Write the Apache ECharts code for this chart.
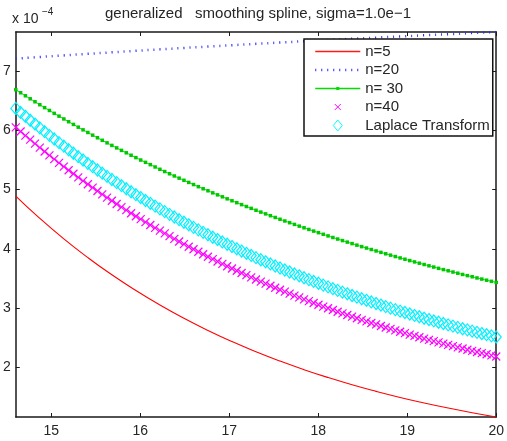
<!DOCTYPE html>
<html>
<head>
<meta charset="utf-8">
<script src="https://cdn.jsdelivr.net/npm/echarts@6/dist/echarts.min.js"></script>
<style>
  html, body { margin: 0; padding: 0; background: #fff; }
  #chart { width: 507px; height: 441px; }
</style>
</head>
<body>
<div id="chart"></div>
<script>
// Sample points (values in units of 1e-4)
const xFine = [
  14.6, 14.654, 14.708, 14.762, 14.816, 14.87, 14.924, 14.978, 15.032, 15.086,
  15.14, 15.194, 15.248, 15.302, 15.356, 15.41, 15.464, 15.518, 15.572, 15.626,
  15.68, 15.734, 15.788, 15.842, 15.896, 15.95, 16.004, 16.058, 16.112, 16.166,
  16.22, 16.274, 16.328, 16.382, 16.436, 16.49, 16.544, 16.598, 16.652, 16.706,
  16.76, 16.814, 16.868, 16.922, 16.976, 17.03, 17.084, 17.138, 17.192, 17.246,
  17.3, 17.354, 17.408, 17.462, 17.516, 17.57, 17.624, 17.678, 17.732, 17.786,
  17.84, 17.894, 17.948, 18.002, 18.056, 18.11, 18.164, 18.218, 18.272, 18.326,
  18.38, 18.434, 18.488, 18.542, 18.596, 18.65, 18.704, 18.758, 18.812, 18.866,
  18.92, 18.974, 19.028, 19.082, 19.136, 19.19, 19.244, 19.298, 19.352, 19.406,
  19.46, 19.514, 19.568, 19.622, 19.676, 19.73, 19.784, 19.838, 19.892, 19.946,
  20
];
const n30 = [
  6.686, 6.634, 6.583, 6.532, 6.482, 6.432, 6.383, 6.335, 6.286, 6.239,
  6.192, 6.145, 6.099, 6.053, 6.008, 5.963, 5.918, 5.874, 5.831, 5.788,
  5.745, 5.703, 5.661, 5.620, 5.579, 5.539, 5.498, 5.459, 5.420, 5.381,
  5.342, 5.304, 5.266, 5.229, 5.192, 5.156, 5.120, 5.084, 5.048, 5.013,
  4.979, 4.944, 4.910, 4.877, 4.843, 4.810, 4.778, 4.745, 4.713, 4.682,
  4.650, 4.619, 4.589, 4.558, 4.528, 4.498, 4.469, 4.440, 4.411, 4.382,
  4.354, 4.326, 4.298, 4.271, 4.244, 4.217, 4.190, 4.164, 4.138, 4.112,
  4.087, 4.061, 4.036, 4.012, 3.987, 3.963, 3.939, 3.915, 3.892, 3.868,
  3.845, 3.823, 3.800, 3.778, 3.756, 3.734, 3.712, 3.691, 3.669, 3.648,
  3.628, 3.607, 3.587, 3.566, 3.546, 3.527, 3.507, 3.488, 3.469, 3.450,
  3.431
];
const n40 = [
  6.050, 5.980, 5.910, 5.842, 5.774, 5.708, 5.642, 5.577, 5.513, 5.450,
  5.388, 5.326, 5.266, 5.206, 5.147, 5.089, 5.032, 4.975, 4.919, 4.864,
  4.810, 4.756, 4.703, 4.651, 4.600, 4.549, 4.499, 4.450, 4.401, 4.353,
  4.305, 4.259, 4.212, 4.167, 4.122, 4.078, 4.034, 3.991, 3.949, 3.907,
  3.865, 3.824, 3.784, 3.744, 3.705, 3.667, 3.629, 3.591, 3.554, 3.517,
  3.481, 3.446, 3.410, 3.376, 3.342, 3.308, 3.275, 3.242, 3.209, 3.178,
  3.146, 3.115, 3.084, 3.054, 3.024, 2.995, 2.966, 2.937, 2.909, 2.881,
  2.854, 2.827, 2.800, 2.773, 2.747, 2.722, 2.696, 2.671, 2.647, 2.622,
  2.598, 2.575, 2.551, 2.528, 2.506, 2.483, 2.461, 2.439, 2.418, 2.397,
  2.376, 2.355, 2.335, 2.315, 2.295, 2.275, 2.256, 2.237, 2.218, 2.200,
  2.181
];
const laplace = [
  6.370, 6.302, 6.236, 6.170, 6.105, 6.041, 5.977, 5.915, 5.853, 5.792,
  5.732, 5.672, 5.613, 5.555, 5.498, 5.441, 5.386, 5.330, 5.276, 5.222,
  5.169, 5.116, 5.065, 5.013, 4.963, 4.913, 4.864, 4.815, 4.767, 4.720,
  4.673, 4.627, 4.581, 4.536, 4.491, 4.447, 4.404, 4.361, 4.319, 4.277,
  4.236, 4.195, 4.155, 4.115, 4.076, 4.037, 3.999, 3.961, 3.923, 3.887,
  3.850, 3.814, 3.779, 3.744, 3.709, 3.675, 3.641, 3.608, 3.575, 3.543,
  3.511, 3.479, 3.448, 3.417, 3.386, 3.356, 3.326, 3.297, 3.268, 3.239,
  3.211, 3.183, 3.156, 3.129, 3.102, 3.075, 3.049, 3.023, 2.997, 2.972,
  2.947, 2.923, 2.898, 2.874, 2.851, 2.827, 2.804, 2.781, 2.759, 2.737,
  2.715, 2.693, 2.672, 2.650, 2.630, 2.609, 2.588, 2.568, 2.549, 2.529,
  2.510
];
const xCoarse = [
  14.6, 14.87, 15.14, 15.41, 15.68, 15.95, 16.22, 16.49, 16.76, 17.03, 17.3,
  17.57, 17.84, 18.11, 18.38, 18.65, 18.92, 19.19, 19.46, 19.73, 20
];
const n5 = [
  4.890, 4.513, 4.167, 3.851, 3.560, 3.294, 3.050, 2.826, 2.621, 2.433, 2.261,
  2.103, 1.958, 1.825, 1.703, 1.592, 1.489, 1.396, 1.310, 1.231, 1.159
];
const n20 = [
  7.210, 7.238, 7.265, 7.291, 7.317, 7.342, 7.367, 7.391, 7.414, 7.437, 7.460,
  7.482, 7.504, 7.525, 7.545, 7.565, 7.585, 7.604, 7.623, 7.642, 7.660
];
const xTicks = [15, 16, 17, 18, 19, 20];
const yTicks = [2, 3, 4, 5, 6, 7];
const seriesNames = ['n=5', 'n=20', 'n= 30', 'n=40', 'Laplace Transform'];

const FONT = 'Liberation Sans, Arial, Helvetica, sans-serif';
const TXT = '#262626';
const AX = '#1a1a1a';

const pairs = (xs, ys) => xs.map((x, i) => [x, ys[i]]);
const allY = n5.concat(n20, n30, n40, laplace);
const xMin = Math.min(...xFine), xMax = Math.max(...xFine);
const yMin = Math.min(...allY), yMax = Math.max(...allY);

function xAx(pos, labels) {
  return {
    type: 'value', position: pos, min: xMin, max: xMax,
    axisLine: { show: true, onZero: false, lineStyle: { color: AX, width: 1.5 } },
    axisTick: { show: true, inside: true, length: 4, customValues: xTicks, lineStyle: { color: AX, width: 1 } },
    axisLabel: labels ? { show: true, customValues: xTicks, margin: 7, fontSize: 14, color: TXT, fontFamily: FONT } : { show: false },
    splitLine: { show: false }
  };
}
function yAx(pos, labels) {
  return {
    type: 'value', position: pos, min: yMin, max: yMax,
    axisLine: { show: true, onZero: false, lineStyle: { color: AX, width: 1.5 } },
    axisTick: { show: true, inside: true, length: 4, customValues: yTicks, lineStyle: { color: AX, width: 1 } },
    axisLabel: labels ? { show: true, customValues: yTicks, margin: 5, fontSize: 14, color: TXT, fontFamily: FONT } : { show: false },
    splitLine: { show: false }
  };
}

// Legend icons drawn in a 45x12 box (corner anchors keep the scale 1:1)
const BOX = 'M0,0L0,0M45,12L45,12';
const legendData = [
  { name: seriesNames[0], icon: 'path://' + BOX + 'M0,5.2L45,5.2L45,6.8L0,6.8Z',
    itemStyle: { color: '#ff1a1a', borderWidth: 0 } },
  { name: seriesNames[1], icon: 'path://' + BOX + 'M0,6L45,6',
    itemStyle: { color: 'rgba(0,0,0,0)', borderColor: '#2a2aff', borderWidth: 2.5, borderType: [1, 5] } },
  { name: seriesNames[2], icon: 'path://' + BOX + 'M0,5.2L45,5.2L45,6.8L0,6.8ZM21,4.5L24,4.5L24,7.5L21,7.5Z',
    itemStyle: { color: '#00e000', borderWidth: 0 } },
  { name: seriesNames[3], icon: 'path://' + BOX + 'M19.5,3L25.5,9M25.5,3L19.5,9',
    itemStyle: { color: 'rgba(0,0,0,0)', borderColor: '#ff00ff', borderWidth: 1 } },
  { name: seriesNames[4], icon: 'path://' + BOX + 'M22.5,0.5L27,6L22.5,11.5L18,6Z',
    itemStyle: { color: 'rgba(0,0,0,0)', borderColor: '#00ffff', borderWidth: 1 } }
];

const chart = echarts.init(document.getElementById('chart'), null, { renderer: 'canvas' });
chart.setOption({
  animation: false,
  backgroundColor: '#fff',
  grid: { left: 12, right: 4, top: 32, bottom: 24, show: false },
  xAxis: [xAx('bottom', true), xAx('top', false)],
  yAxis: [yAx('left', true), yAx('right', false)],
  legend: {
    orient: 'vertical', left: 304, top: 39,
    padding: [5, 3, 3, 10], itemGap: 3.5,
    itemWidth: 45, itemHeight: 12,
    backgroundColor: '#fff', borderColor: '#111', borderWidth: 1.5,
    textStyle: { fontSize: 15, color: TXT, fontFamily: FONT },
    selectedMode: false,
    data: legendData
  },
  graphic: [
    { type: 'text', x: 258, y: 6,
      style: { text: 'generalized   smoothing spline, sigma=1.0e\u22121', fontSize: 15, fill: TXT, fontFamily: FONT, textAlign: 'center' } },
    { type: 'text', x: 12, y: 12,
      style: { text: 'x 10', fontSize: 14, fill: TXT, fontFamily: FONT } },
    { type: 'text', x: 42, y: 7,
      style: { text: '\u22124', fontSize: 10, fill: TXT, fontFamily: FONT } }
  ],
  series: [
    { name: seriesNames[0], type: 'line', data: pairs(xCoarse, n5), smooth: true,
      showSymbol: false, symbol: 'none', silent: true,
      lineStyle: { color: '#ff0000', width: 1.1 }, itemStyle: { color: '#ff0000' } },
    { name: seriesNames[1], type: 'line', data: pairs(xCoarse, n20), smooth: true,
      showSymbol: false, symbol: 'none', silent: true,
      lineStyle: { color: '#2a2aff', width: 2.5, type: [1, 5] }, itemStyle: { color: '#2a2aff' } },
    { name: seriesNames[2], type: 'line', data: pairs(xFine, n30),
      symbol: 'rect', symbolSize: 3.5, showAllSymbol: true, silent: true,
      lineStyle: { color: '#00f000', width: 1 }, itemStyle: { color: '#00c800' } },
    { name: seriesNames[3], type: 'scatter', data: pairs(xFine, n40), clip: false,
      symbol: 'path://M0,0L8,8M8,0L0,8', symbolSize: 8, silent: true,
      itemStyle: { color: 'rgba(0,0,0,0)', borderColor: '#ff00ff', borderWidth: 1.2, opacity: 1 } },
    { name: seriesNames[4], type: 'scatter', data: pairs(xFine, laplace), clip: false,
      symbol: 'diamond', symbolSize: [10, 12], silent: true,
      itemStyle: { color: 'rgba(0,0,0,0)', borderColor: '#00f0ff', borderWidth: 1.2, opacity: 1 } }
  ]
});
</script>
</body>
</html>
